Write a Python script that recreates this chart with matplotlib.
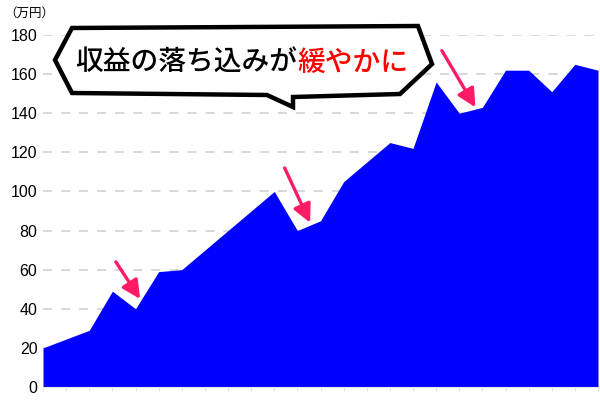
import matplotlib.pyplot as plt
from matplotlib.patches import Polygon

# data (万円)
periods = list(range(25))
revenue = [20, 24.5, 29, 49, 40, 59, 60, 70, 80, 90, 100, 80, 85, 105, 115,
           125, 122, 156, 140, 143, 162, 162, 151, 165, 162]
y_ticks = [0, 20, 40, 60, 80, 100, 120, 140, 160, 180]

# arrows pointing at the dips: (start, tip) in data units
arrows = [((3.15, 64), (4.2, 45)),
          ((10.45, 112), (11.55, 84)),
          ((17.25, 172), (18.7, 143))]

title_black = "収益の落ち込みが"
title_red = "緩やかに"

plt.rcParams['font.family'] = ['Noto Sans CJK JP', 'DejaVu Sans']

fig = plt.figure(figsize=(6, 4), dpi=100)
ax = fig.add_axes([43 / 600, 13 / 400, 555 / 600, 352 / 400])

ax.fill_between(periods, revenue, 0, color='#0000ff', linewidth=0, zorder=2)
ax.set_xlim(0, 24)
ax.set_ylim(0, 180)
ax.set_yticks(y_ticks)
ax.yaxis.grid(True, color='#d4d4d4', linestyle=(0, (5, 5)), linewidth=1.3, zorder=0)
ax.set_xticks(periods)
ax.set_xticklabels([])
ax.tick_params(axis='x', length=3, color='#e4e4e4', width=0.8)
ax.tick_params(axis='y', length=0, labelsize=11.5, pad=4)
for lbl in ax.get_yticklabels():
    lbl.set_family(['Liberation Sans', 'DejaVu Sans'])
for side in ['left', 'right', 'top']:
    ax.spines[side].set_visible(False)
ax.spines['bottom'].set_color('#e6e6e6')
ax.set_axisbelow(True)

fig.text(4 / 600, 1 - 13 / 400, "（万円）", fontsize=9, va='center', ha='left')

for (x0, y0), (x1, y1) in arrows:
    ax.annotate('', xy=(x1, y1), xytext=(x0, y0), zorder=5,
                arrowprops=dict(arrowstyle='-|>,head_length=1.1,head_width=0.55',
                                color='#ff1a66', lw=2.4, shrinkA=0, shrinkB=0))

# speech bubble in pixel coordinates -> figure fraction
bubble_px = [(72, 28), (418, 26), (432, 64), (400, 94), (293, 97), (293, 107),
             (267, 95), (72, 93), (55, 60)]
bubble = Polygon([(px / 600, 1 - py / 400) for px, py in bubble_px], closed=True,
                 facecolor='white', edgecolor='black', linewidth=3.2,
                 joinstyle='miter', transform=fig.transFigure, zorder=10)
fig.add_artist(bubble)

fig.text(297 / 600, 1 - 62 / 400, title_black, fontsize=20, ha='right', va='center',
         color='black', fontweight='medium', zorder=11)
fig.text(297 / 600, 1 - 62 / 400, title_red, fontsize=20, ha='left', va='center',
         color='#ff0000', fontweight='medium', zorder=11)

fig.savefig('out.png', dpi=100)
